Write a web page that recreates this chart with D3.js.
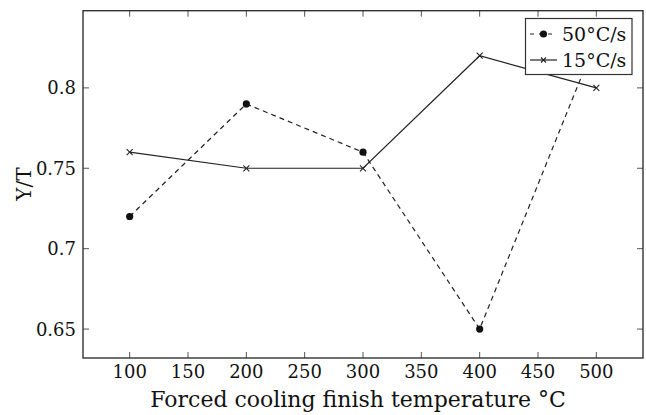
<!DOCTYPE html>
<html><head><meta charset="utf-8">
<script src="https://cdn.jsdelivr.net/npm/d3@7"></script>
<style>body{margin:0;background:#fff}svg{display:block}</style>
</head><body><svg id="c" width="646" height="415"></svg>
<script>
const temps = [100, 200, 300, 400, 500];
const series50 = [0.72, 0.79, 0.76, 0.65, 0.83];
const series15 = [0.76, 0.75, 0.75, 0.82, 0.80];
const seriesNames = ["50°C/s", "15°C/s"];
const xTicks = [100, 150, 200, 250, 300, 350, 400, 450, 500];
const yTicks = [0.65, 0.7, 0.75, 0.8];
const xTitle = "Forced cooling finish temperature °C";
const yTitle = "Y/T";

const FONT = "'DejaVu Serif', 'Liberation Serif', serif";
const svg = d3.select("#c");
const L = 83, R = 643, T = 10.7, B = 358;
const x = d3.scaleLinear().domain([60, 540]).range([L, R]);
const y = d3.scaleLinear().domain([0.632, 0.848]).range([B, T]);
const col = "#222";

const tk = 6;
const g = svg.append("g").attr("stroke", "#555").attr("stroke-width", 1);
xTicks.forEach(v => {
  g.append("line").attr("x1", x(v)).attr("x2", x(v)).attr("y1", B).attr("y2", B - tk);
  g.append("line").attr("x1", x(v)).attr("x2", x(v)).attr("y1", T).attr("y2", T + tk);
});
yTicks.forEach(v => {
  g.append("line").attr("y1", y(v)).attr("y2", y(v)).attr("x1", L).attr("x2", L + tk);
  g.append("line").attr("y1", y(v)).attr("y2", y(v)).attr("x1", R).attr("x2", R - tk);
});
svg.selectAll(".xl").data(xTicks).enter().append("text")
  .attr("font-family", FONT).attr("fill", "#111")
  .attr("x", d => x(d)).attr("y", 378).attr("text-anchor", "middle")
  .attr("font-size", 18).text(d => d);
svg.selectAll(".yl").data(yTicks).enter().append("text")
  .attr("font-family", FONT).attr("fill", "#111")
  .attr("x", 76).attr("y", d => y(d) + 6.5).attr("text-anchor", "end")
  .attr("font-size", 18).text(d => d);

svg.append("text").attr("font-family", FONT).attr("fill", "#111")
  .attr("x", 358).attr("y", 407).attr("text-anchor", "middle")
  .attr("font-size", 22).text(xTitle);
svg.append("text").attr("font-family", FONT).attr("fill", "#111")
  .attr("transform", "translate(31,184) rotate(-90)")
  .attr("text-anchor", "middle").attr("font-size", 20).text(yTitle);

const line = d3.line().x((d, i) => x(temps[i])).y(d => y(d));
function cross(sel, cx, cy, s) {
  sel.append("path").attr("d", `M${cx - s},${cy - s}L${cx + s},${cy + s}M${cx - s},${cy + s}L${cx + s},${cy - s}`)
    .attr("stroke", col).attr("stroke-width", 1.1).attr("fill", "none");
}

svg.append("path").attr("d", line(series50)).attr("fill", "none").attr("stroke", col)
  .attr("stroke-width", 1.2).attr("stroke-dasharray", "5,4");
series50.forEach((v, i) => svg.append("circle").attr("cx", x(temps[i])).attr("cy", y(v)).attr("r", 3.6).attr("fill", "#111"));

svg.append("path").attr("d", line(series15)).attr("fill", "none").attr("stroke", col).attr("stroke-width", 1.2);
series15.forEach((v, i) => cross(svg, x(temps[i]), y(v), 3));

svg.append("rect").attr("x", L).attr("y", T).attr("width", R - L).attr("height", B - T)
  .attr("fill", "none").attr("stroke", "#333").attr("stroke-width", 1.4);

const lg = svg.append("g");
lg.append("rect").attr("x", 525.5).attr("y", 18.5).attr("width", 106.5).attr("height", 56)
  .attr("fill", "#fff").attr("stroke", "#333").attr("stroke-width", 1.2);
const rows = [34, 60];
lg.append("line").attr("x1", 530).attr("x2", 557).attr("y1", rows[0]).attr("y2", rows[0])
  .attr("stroke", col).attr("stroke-width", 1.2).attr("stroke-dasharray", "4,5");
lg.append("circle").attr("cx", 543.5).attr("cy", rows[0]).attr("r", 3.6).attr("fill", "#111");
lg.append("line").attr("x1", 530).attr("x2", 557).attr("y1", rows[1]).attr("y2", rows[1])
  .attr("stroke", col).attr("stroke-width", 1.2);
cross(lg, 543.5, rows[1], 2.5);
seriesNames.forEach((n, i) => lg.append("text").attr("font-family", FONT).attr("fill", "#111")
  .attr("x", 562).attr("y", rows[i] + 7).attr("font-size", 19).text(n));
</script></body></html>
